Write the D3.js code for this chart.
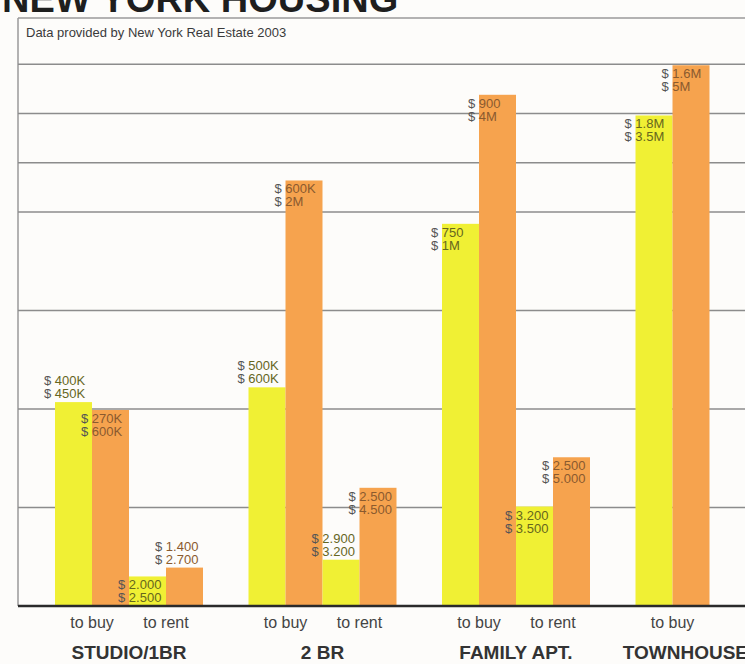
<!DOCTYPE html>
<html>
<head>
<meta charset="utf-8">
<script src="https://cdn.jsdelivr.net/npm/d3@7/dist/d3.min.js"></script>
<style>
  html, body { margin: 0; padding: 0; background: #fdfcfa; }
  svg { display: block; font-family: "Liberation Sans", Arial, sans-serif; }
</style>
</head>
<body>
<script>
// categories and the two bars groups inside each
var categories = ["STUDIO/1BR", "2 BR", "FAMILY APT.", "TOWNHOUSE"];
var groupCategory = ["STUDIO/1BR", "STUDIO/1BR", "2 BR", "2 BR", "FAMILY APT.", "FAMILY APT.", "TOWNHOUSE"];
var groupMode = ["to buy", "to rent", "to buy", "to rent", "to buy", "to rent", "to buy"];

// bar heights, in grid units
var yellowValues = [2.07, 0.30, 2.22, 0.47, 3.88, 1.01, 4.98];
var orangeValues = [1.99, 0.39, 4.32, 1.20, 5.19, 1.51, 5.49];

// price labels printed on the bars
var yellowLabels = [["400K", "450K"], ["2.000", "2.500"], ["500K", "600K"], ["2.900", "3.200"], ["750", "1M"], ["3.200", "3.500"], ["1.8M", "3.5M"]];
var orangeLabels = [["270K", "600K"], ["1.400", "2.700"], ["600K", "2M"], ["2.500", "4.500"], ["900", "4M"], ["2.500", "5.000"], ["1.6M", "5M"]];

// grid lines
var gridTicks = [1, 2, 3, 4, 4.5, 5, 5.5];

var width = 745;
var height = 664;
var yellow = "#f0f034";
var orange = "#f6a34e";

// label above the bar top or inside it
var yellowAbove = [true, false, true, true, false, false, false];
var orangeAbove = [false, true, false, false, false, false, false];

var svg = d3.select("body").append("svg")
  .attr("width", width)
  .attr("height", height);

// cut-off headline at the very top
svg.append("text")
  .attr("x", 2)
  .attr("y", 12)
  .style("font-size", "38px")
  .style("font-weight", "bold")
  .style("fill", "#1e1e1e")
  .text("NEW YORK HOUSING");

var y = d3.scaleLinear()
  .domain([0, 6])
  .range([606, 15]);

var x0 = d3.scaleBand()
  .domain(categories)
  .range([55, 55 + 193.5 * 4]);

var x1 = d3.scaleBand()
  .domain(["to buy|y", "to buy|o", "to rent|y", "to rent|o"])
  .range([0, 148]);

// frame
svg.append("line")
  .attr("x1", 18).attr("x2", width)
  .attr("y1", 18).attr("y2", 18)
  .style("stroke", "#9a9a9a").style("stroke-width", 1.5);
svg.append("line")
  .attr("x1", 18).attr("x2", 18)
  .attr("y1", 18).attr("y2", y(0))
  .style("stroke", "#9a9a9a").style("stroke-width", 1.5);

svg.append("text")
  .attr("x", 26)
  .attr("y", 37)
  .style("font-size", "13px")
  .style("fill", "#3a3a3a")
  .text("Data provided by New York Real Estate 2003");

// grid
svg.append("g")
  .selectAll("line")
  .data(gridTicks)
  .enter()
  .append("line")
  .attr("x1", 18)
  .attr("x2", width)
  .attr("y1", function (d) { return y(d); })
  .attr("y2", function (d) { return y(d); })
  .style("stroke", "#8c8c8c")
  .style("stroke-width", 1.5);

// flatten groups into bars
var bars = [];
groupCategory.forEach(function (c, i) {
  bars.push({ cat: c, mode: groupMode[i], key: groupMode[i] + "|y", value: yellowValues[i], label: yellowLabels[i], color: yellow, num: "#66661e", above: yellowAbove[i] });
  bars.push({ cat: c, mode: groupMode[i], key: groupMode[i] + "|o", value: orangeValues[i], label: orangeLabels[i], color: orange, num: "#8a5a2e", above: orangeAbove[i] });
});

svg.append("g")
  .selectAll("rect")
  .data(bars)
  .enter()
  .append("rect")
  .attr("x", function (d) { return x0(d.cat) + x1(d.key); })
  .attr("width", x1.bandwidth())
  .attr("y", function (d) { return y(d.value); })
  .attr("height", function (d) { return y(0) - y(d.value); })
  .style("fill", function (d) { return d.color; });

// value labels
var lab = svg.append("g")
  .selectAll("g")
  .data(bars)
  .enter()
  .append("g")
  .attr("transform", function (d) {
    var top = y(d.value);
    return "translate(" + (x0(d.cat) + x1(d.key) - 11) + "," + (d.above ? top - 17 : top + 13) + ")";
  });

lab.selectAll("text")
  .data(function (d) { return d.label.map(function (t) { return { t: t, num: d.num }; }); })
  .enter()
  .append("text")
  .attr("y", function (d, i) { return i * 13; })
  .style("font-size", "13px")
  .each(function (d) {
    var t = d3.select(this);
    t.append("tspan").style("fill", "#555").text("$ ");
    t.append("tspan").style("fill", d.num).text(d.t);
  });

// baseline
svg.append("line")
  .attr("x1", 18).attr("x2", width)
  .attr("y1", y(0)).attr("y2", y(0))
  .style("stroke", "#2a2a2a").style("stroke-width", 2.5);

// mode labels under each pair
svg.append("g")
  .selectAll("text")
  .data(groupMode.map(function (m, i) { return { mode: m, cat: groupCategory[i] }; }))
  .enter()
  .append("text")
  .attr("x", function (d) { return x0(d.cat) + x1(d.mode + "|o"); })
  .attr("y", 628)
  .attr("text-anchor", "middle")
  .style("font-size", "16px")
  .style("fill", "#444")
  .text(function (d) { return d.mode; });

// category labels, pulled back in when they would run off the right edge
svg.append("g")
  .selectAll("text")
  .data(categories)
  .enter()
  .append("text")
  .attr("y", 659)
  .attr("text-anchor", "middle")
  .style("font-size", "19px")
  .style("font-weight", "bold")
  .style("fill", "#333")
  .text(function (d) { return d; })
  .attr("x", function (d) {
    var cx = x0(d) + x1("to rent|y");
    var w = this.getComputedTextLength();
    return Math.min(cx, width - w / 2 + 3);
  });
</script>
</body>
</html>
